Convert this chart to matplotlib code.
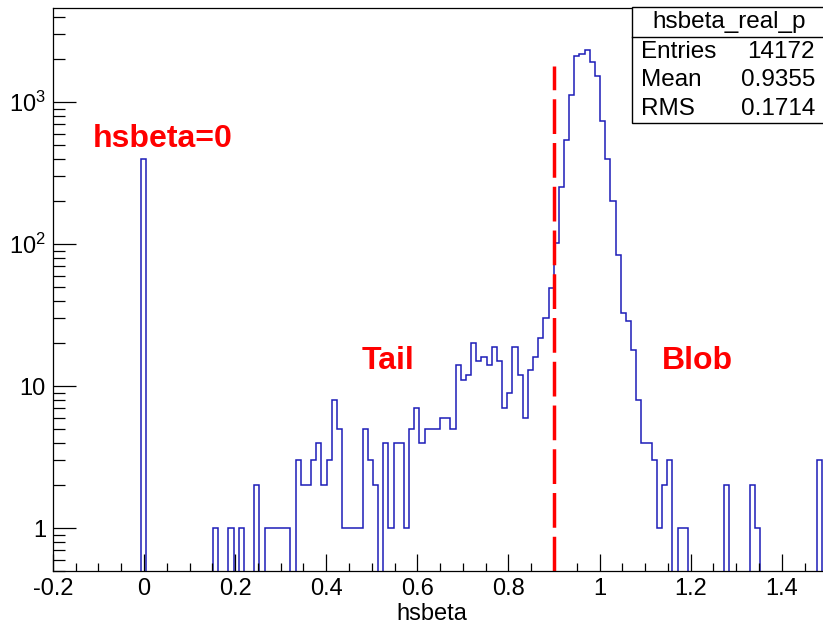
import numpy as np
import matplotlib
matplotlib.use("Agg")
import matplotlib.pyplot as plt
from matplotlib.patches import Rectangle
from matplotlib.lines import Line2D
from matplotlib.ticker import MultipleLocator, LogLocator, FuncFormatter, NullFormatter

plt.rcParams["font.family"] = ["Liberation Sans", "DejaVu Sans"]
plt.rcParams["mathtext.default"] = "regular"
plt.rcParams["axes.unicode_minus"] = False

# histogram binning (ROOT style: 150 bins from -0.2 to 1.5)
X_MIN, X_MAX, N_BINS = -0.2, 1.5, 150

# bin contents
counts = [
    0, 0, 0, 0, 0, 0, 0, 0, 0, 0,
    0, 0, 0, 0, 0, 0, 0, 400, 0, 0,
    0, 0, 0, 0, 0, 0, 0, 0, 0, 0,
    0, 1, 0, 0, 1, 0, 1, 0, 0, 2,
    0, 1, 1, 1, 1, 1, 0, 3, 2, 2,
    3, 4, 2, 3, 8, 5, 1, 1, 1, 1,
    5, 3, 2, 0, 4, 1, 4, 4, 1, 5,
    7, 4, 5, 5, 5, 6, 6, 5, 14, 11,
    12, 20, 15, 16, 14, 19, 15, 7, 9, 19,
    12, 6, 13, 16, 22, 30, 49, 102, 253, 540,
    1130, 2100, 2180, 2310, 1910, 1520, 740, 400, 202, 84,
    33, 29, 18, 8, 4, 4, 3, 1, 2, 3,
    0, 1, 1, 0, 0, 0, 0, 0, 0, 0,
    2, 0, 0, 0, 0, 2, 1, 0, 0, 0,
    0, 0, 0, 0, 0, 0, 0, 0, 3, 0,
]

hist_name = "hsbeta_real_p"
stat_names = ["Entries", "Mean", "RMS"]
stat_values = ["14172", "0.9355", "0.1714"]
x_title = "hsbeta"
cut_value = 0.9
cut_top = 1800
y_tick_labels = {1: "1", 10: "10", 100: "$10^{2}$", 1000: "$10^{3}$"}

W, H = 823, 623


def main():
    fig = plt.figure(figsize=(W / 100, H / 100), dpi=100)
    ax = fig.add_axes([52.9 / W, 52 / H, (827.3 - 52.9) / W, 563 / H])

    edges = np.linspace(X_MIN, X_MAX, N_BINS + 1)
    vals = np.array(counts, dtype=float)
    floor = 1e-3
    vals = np.where(vals > 0, vals, floor)
    ax.stairs(vals, edges, baseline=floor, color="#1c1cb8", lw=1.1)

    ax.set_yscale("log")
    ax.set_xlim(X_MIN, X_MAX)
    ax.set_ylim(0.5, 4600)

    # red cut line
    ax.plot([cut_value, cut_value], [0.5, cut_top], color="red", lw=2.5,
            linestyle=(0, (10, 2.6)), solid_capstyle="butt")

    # region labels
    lab = dict(color="red", fontsize=23, fontweight="bold", va="baseline", ha="left")
    ax.text(-0.113, 484, "hsbeta=0", **lab)
    ax.text(0.478, 13.2, "Tail", **lab)
    ax.text(1.137, 13.2, "Blob", **lab)

    # axes / ticks
    ax.xaxis.set_major_locator(MultipleLocator(0.2))
    ax.xaxis.set_minor_locator(MultipleLocator(0.05))
    ax.xaxis.set_major_formatter(FuncFormatter(lambda v, _: f"{v:g}"))
    ax.yaxis.set_major_locator(LogLocator(base=10, numticks=10))
    ax.yaxis.set_minor_locator(LogLocator(base=10, subs=np.arange(2, 10), numticks=20))
    ax.yaxis.set_major_formatter(FuncFormatter(lambda v, _: y_tick_labels.get(int(round(v)), "")))
    ax.yaxis.set_minor_formatter(NullFormatter())
    ax.tick_params(axis="both", which="both", direction="in", top=False, right=False,
                   labelsize=17, width=0.9, color="black")
    ax.tick_params(axis="x", which="major", length=12.2, pad=5)
    ax.tick_params(axis="x", which="minor", length=6.1)
    ax.tick_params(axis="y", which="major", length=16.6, pad=5)
    ax.tick_params(axis="y", which="minor", length=8.3)
    for sp in ax.spines.values():
        sp.set_linewidth(0.9)

    ax.set_xlabel(x_title, fontsize=17)
    ax.xaxis.set_label_coords(0.4895, -0.056)

    # stats box
    def fx(px):
        return px / W

    def fy(py):
        return 1 - py / H

    box = Rectangle((fx(632), fy(123)), fx(826) - fx(632), fy(7) - fy(123),
                    transform=fig.transFigure, facecolor="white", edgecolor="black",
                    lw=1.0, zorder=5)
    fig.add_artist(box)
    fig.add_artist(Line2D([fx(632), fx(826)], [fy(37), fy(37)], transform=fig.transFigure,
                          color="black", lw=1.0, zorder=6))
    fig.text(fx(729), fy(28), hist_name, ha="center", va="baseline", fontsize=17.5, zorder=7)
    for i, (name, value) in enumerate(zip(stat_names, stat_values)):
        base = 58 + i * 28.5
        fig.text(fx(641), fy(base), name, ha="left", va="baseline", fontsize=17.5, zorder=7)
        fig.text(fx(815), fy(base), value, ha="right", va="baseline", fontsize=17.5, zorder=7)

    fig.savefig("out.png", dpi=100)


if __name__ == "__main__":
    main()
